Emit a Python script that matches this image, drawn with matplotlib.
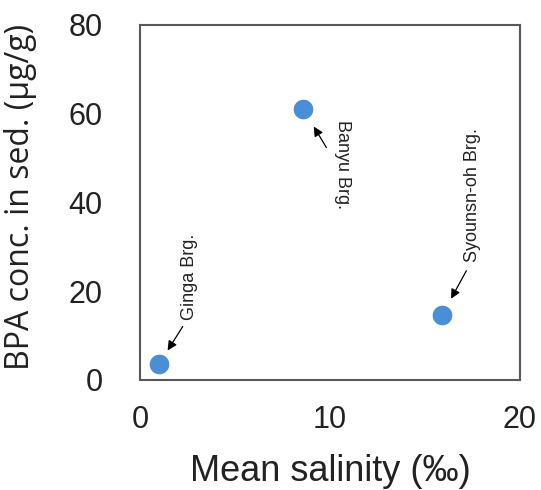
import matplotlib.pyplot as plt

# sites, mean salinity (permil) and BPA in sediment (ug/g)
sites = ["Ginga Brg.", "Banyu Brg.", "Syounsn-oh Brg."]
salinity = [1.0, 8.6, 15.9]
bpa = [3.6, 61.0, 14.6]

x_ticks = [0, 10, 20]
y_ticks = [0, 20, 40, 60, 80]

fig = plt.figure(figsize=(5.41, 4.90), dpi=100)
ax = fig.add_axes([0.259, 0.2245, 0.702, 0.7245])

ax.scatter(salinity, bpa, s=200, color="#4a8fd6", zorder=3, linewidths=0)

# label placement: (arrow tail offset, arrow shrink, text offset, rotation, valign)
label_style = [
    ((17, 27), 11.5, (21.6, 31.5), 90, "bottom"),
    ((16.5, -27.5), 14.5, (28, -8), -90, "top"),
    ((17.5, 32), 13.5, (21.6, 38), 90, "bottom"),
]
for name, x, y, (tail, shrink, toff, rot, va) in zip(sites, salinity, bpa, label_style):
    ax.annotate("", xy=(x, y), xytext=tail, textcoords="offset points",
                arrowprops=dict(arrowstyle="-|>", color="black", lw=0.9,
                                mutation_scale=14, shrinkA=0, shrinkB=shrink))
    ax.annotate(name, xy=(x, y), xytext=toff, textcoords="offset points",
                rotation=rot, ha="center", va=va, fontsize=13,
                family="Liberation Sans", color="#222222")

ax.set_xlim(0, 20)
ax.set_ylim(0, 80)
ax.set_xticks(x_ticks)
ax.set_yticks(y_ticks)
ax.tick_params(length=0, labelsize=22, labelcolor="#222222")
ax.tick_params(axis="x", pad=18)
ax.tick_params(axis="y", pad=27)
for lab in ax.get_xticklabels() + ax.get_yticklabels():
    lab.set_family("Liberation Sans")

for sp in ax.spines.values():
    sp.set_color("#595959")
    sp.set_linewidth(1.5)

ax.set_xlabel("Mean salinity (‰)", fontsize=26, family="Liberation Sans",
              color="#222222", labelpad=14)
ax.set_ylabel("BPA conc. in sed. (μg/g)", fontsize=23, family="Open Sans",
              color="#222222")
ax.yaxis.set_label_coords(-0.272, 0.515)

fig.savefig("out.png", dpi=100)
